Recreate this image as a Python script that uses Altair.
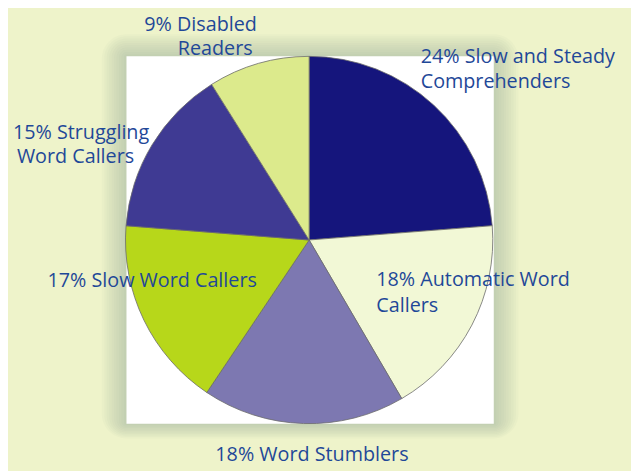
import altair as alt
import pandas as pd

# ---- data ----
categories = ["Slow and Steady Comprehenders", "Automatic Word Callers", "Word Stumblers",
              "Slow Word Callers", "Struggling Word Callers", "Disabled Readers"]
percent = [24, 18, 18, 17, 15, 9]
label_lines = [["24% Slow and Steady", "Comprehenders"],
               ["18% Automatic Word", "Callers"],
               ["18% Word Stumblers"],
               ["17% Slow Word Callers"],
               ["15% Struggling", "Word Callers"],
               ["9% Disabled", "Readers"]]
colors = ["#15157c", "#f2f8d6", "#7d78b1", "#b7d71a", "#3f3a93", "#dcea8c"]

# ---- layout (chart pixel coords, page offset 8px) ----
OFF = 8
W, H = 639 - OFF, 471 - OFF
cx, cy, R = 313 - OFF, 240 - OFF, 186
box = (128 - OFF, 54 - OFF, 500 - OFF, 426 - OFF)
# left x, baseline y for each label line (page coords)
label_pos = [[(426, 61), (426, 86)],
             [(381, 287), (381, 313)],
             [(218, 464)],
             [(48, 288)],
             [(13, 138), (17, 162)],
             [(146, 28), (180, 53)]]
TEXT_COLOR = "#1f4898"
FONT = "Open Sans"
FS = 20

df = pd.DataFrame({"category": categories, "percent": percent,
                   "order": list(range(len(categories)))})

layers = []

# shadow glow around the white box
for i in range(10, 0, -1):
    d = i * 2.5
    layers.append(
        alt.Chart(df.head(1)).mark_rect(color="#6f8070", opacity=0.03, cornerRadius=d).encode(
            x=alt.value(box[0] - d), x2=alt.value(box[2] + d),
            y=alt.value(box[1] - d * 0.9), y2=alt.value(box[3] + d * 0.6)))

layers.append(
    alt.Chart(df.head(1)).mark_rect(color="white").encode(
        x=alt.value(box[0]), x2=alt.value(box[2]),
        y=alt.value(box[1]), y2=alt.value(box[3])))

pie = alt.Chart(df).mark_arc(outerRadius=R, stroke="#6b6b6b", strokeWidth=0.8).encode(
    theta=alt.Theta("percent:Q", stack=True),
    order=alt.Order("order:Q"),
    color=alt.Color("category:N", scale=alt.Scale(domain=categories, range=colors), legend=None),
    x=alt.value(cx), y=alt.value(cy),
)
layers.append(pie)

for lines, poss in zip(label_lines, label_pos):
    for line, (lx, ly) in zip(lines, poss):
        layers.append(
            alt.Chart(df.head(1)).mark_text(
                align="left", baseline="alphabetic", font=FONT, fontSize=FS,
                color=TEXT_COLOR).encode(
                x=alt.value(lx - OFF), y=alt.value(ly - OFF), text=alt.value(line)))

chart = alt.layer(*layers).properties(
    width=W, height=H, padding=0, background="#eef3ca",
    autosize=alt.AutoSizeParams(type="none"),
).configure_view(stroke=None)

chart.save("out.html", embed_options={"renderer": "svg", "actions": False})
